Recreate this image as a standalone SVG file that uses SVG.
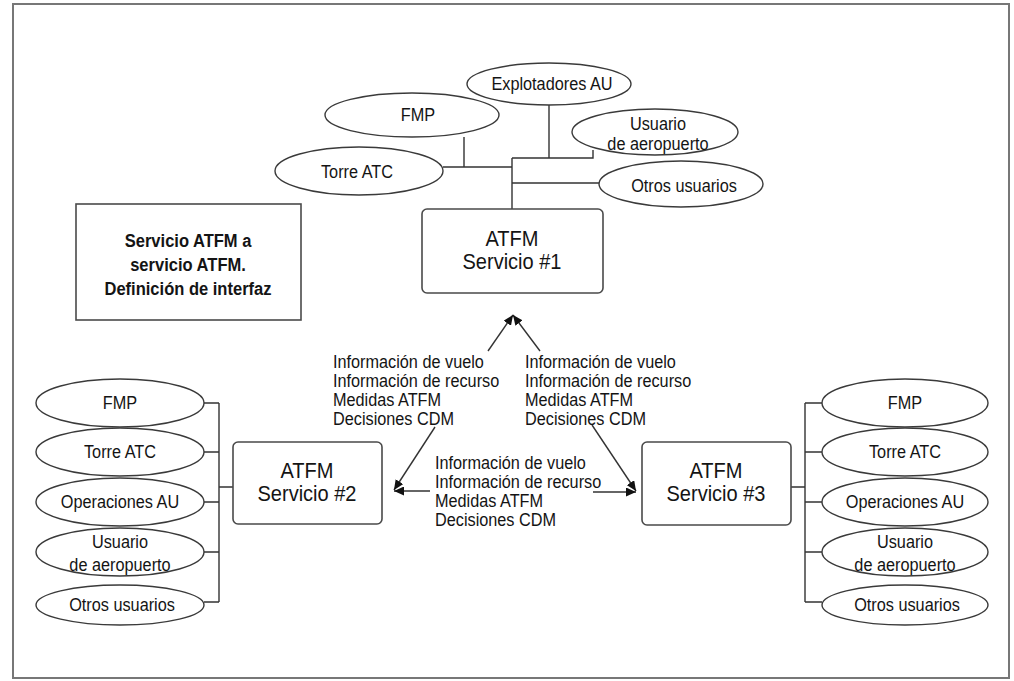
<svg xmlns="http://www.w3.org/2000/svg" width="1014" height="681" viewBox="0 0 1014 681">
<style>
text{font-family:"Liberation Sans",Arial,sans-serif;fill:#141414;transform-box:fill-box}
.e{fill:#fff;stroke:#3a3a3a;stroke-width:1.4}
.b{fill:#fff;stroke:#4a4a4a;stroke-width:1.6}
.et{font-size:18.5px;text-anchor:middle;transform:scaleX(0.88);transform-origin:center}
.bt{font-size:22px;text-anchor:middle;transform:scaleX(0.91);transform-origin:center}
.it{font-size:17.5px;transform:scaleX(0.93);transform-origin:left center}
.ht{font-size:19px;font-weight:bold;text-anchor:middle;transform:scaleX(0.87);transform-origin:center}
.c{fill:none;stroke:#333;stroke-width:1.4}
.a{fill:none;stroke:#333;stroke-width:1.4;marker-end:url(#ah)}
</style>
<defs>
<marker id="ah" markerUnits="userSpaceOnUse" markerWidth="11" markerHeight="9" refX="10" refY="4.5" orient="auto">
<path d="M0,0 L10,4.5 L0,9 z" fill="#111"/>
</marker>
</defs>
<rect x="0" y="0" width="1014" height="681" fill="#fff"/>
<rect x="13" y="4" width="996" height="674" fill="none" stroke="#777" stroke-width="2"/>

<g id="connectors">
<path class="c" d="M464,137 V167 M443,167 H512 M512,158 V209 M512,158 H593 V150 M549,105 V158 M512,183 H600"/>
<path class="c" d="M219,403 V602 M204,403 H219 M204,452 H219 M204,502 H219 M204,552 H219 M204,602 H219 M219,487 H233"/>
<path class="c" d="M805,403 V602 M805,403 H822 M805,452 H822 M805,502 H822 M805,552 H822 M805,602 H822 M791,487 H805"/>
<line class="a" x1="488" y1="351" x2="513" y2="315"/>
<line class="a" x1="540" y1="351" x2="513" y2="315"/>
<line class="a" x1="435" y1="427" x2="394" y2="490"/>
<line class="a" x1="430" y1="491" x2="394" y2="491"/>
<line class="a" x1="592" y1="425" x2="636" y2="491"/>
<line class="a" x1="593" y1="492" x2="636" y2="492"/>
</g>

<g id="info">
<rect class="b" x="76" y="204" width="225" height="116"/>
<text class="ht" x="188" y="247">Servicio ATFM a</text>
<text class="ht" x="188" y="271">servicio ATFM.</text>
<text class="ht" x="188" y="295">Definición de interfaz</text>
</g>

<g id="svc1">
<rect class="b" x="422" y="209" width="181" height="84" rx="5"/>
<text class="bt" x="512" y="246">ATFM</text>
<text class="bt" x="512" y="269">Servicio #1</text>
</g>
<g id="svc2">
<rect class="b" x="233" y="442" width="149" height="82" rx="5"/>
<text class="bt" x="307" y="478">ATFM</text>
<text class="bt" x="307" y="501">Servicio #2</text>
</g>
<g id="svc3">
<rect class="b" x="642" y="442" width="149" height="83" rx="5"/>
<text class="bt" x="716" y="478">ATFM</text>
<text class="bt" x="716" y="501">Servicio #3</text>
</g>

<g id="top-explotadores"><ellipse class="e" cx="549" cy="84" rx="82" ry="21"/><text class="et" x="552" y="90">Explotadores AU</text></g>
<g id="top-fmp"><ellipse class="e" cx="412" cy="115" rx="87" ry="22"/><text class="et" x="418" y="121">FMP</text></g>
<g id="top-usuario"><ellipse class="e" cx="655" cy="132" rx="83" ry="23"/><text class="et" x="658" y="130">Usuario</text><text class="et" x="658" y="150">de aeropuerto</text></g>
<g id="top-torre"><ellipse class="e" cx="359" cy="171" rx="84" ry="24"/><text class="et" x="357" y="178">Torre ATC</text></g>
<g id="top-otros"><ellipse class="e" cx="681" cy="184" rx="82" ry="23"/><text class="et" x="684" y="192">Otros usuarios</text></g>

<g id="l-fmp"><ellipse class="e" cx="120" cy="403" rx="84" ry="24"/><text class="et" x="120" y="409">FMP</text></g>
<g id="l-torre"><ellipse class="e" cx="120" cy="452" rx="84" ry="24"/><text class="et" x="120" y="458">Torre ATC</text></g>
<g id="l-ops"><ellipse class="e" cx="120" cy="502" rx="84" ry="24"/><text class="et" x="120" y="508">Operaciones AU</text></g>
<g id="l-usuario"><ellipse class="e" cx="120" cy="552" rx="84" ry="24"/><text class="et" x="120" y="548">Usuario</text><text class="et" x="120" y="571">de aeropuerto</text></g>
<g id="l-otros"><ellipse class="e" cx="120" cy="605" rx="84" ry="20"/><text class="et" x="122" y="611">Otros usuarios</text></g>

<g id="r-fmp"><ellipse class="e" cx="905" cy="403" rx="83" ry="24"/><text class="et" x="905" y="409">FMP</text></g>
<g id="r-torre"><ellipse class="e" cx="905" cy="452" rx="83" ry="24"/><text class="et" x="905" y="458">Torre ATC</text></g>
<g id="r-ops"><ellipse class="e" cx="905" cy="502" rx="83" ry="24"/><text class="et" x="905" y="508">Operaciones AU</text></g>
<g id="r-usuario"><ellipse class="e" cx="905" cy="552" rx="83" ry="24"/><text class="et" x="905" y="548">Usuario</text><text class="et" x="905" y="571">de aeropuerto</text></g>
<g id="r-otros"><ellipse class="e" cx="905" cy="605" rx="83" ry="20"/><text class="et" x="907" y="611">Otros usuarios</text></g>

<g id="labels">
<text class="it" x="333" y="368">Información de vuelo</text>
<text class="it" x="333" y="387">Información de recurso</text>
<text class="it" x="333" y="406">Medidas ATFM</text>
<text class="it" x="333" y="425">Decisiones CDM</text>
<text class="it" x="525" y="368">Información de vuelo</text>
<text class="it" x="525" y="387">Información de recurso</text>
<text class="it" x="525" y="406">Medidas ATFM</text>
<text class="it" x="525" y="425">Decisiones CDM</text>
<text class="it" x="435" y="469">Información de vuelo</text>
<text class="it" x="435" y="488">Información de recurso</text>
<text class="it" x="435" y="507">Medidas ATFM</text>
<text class="it" x="435" y="526">Decisiones CDM</text>
</g>
</svg>
